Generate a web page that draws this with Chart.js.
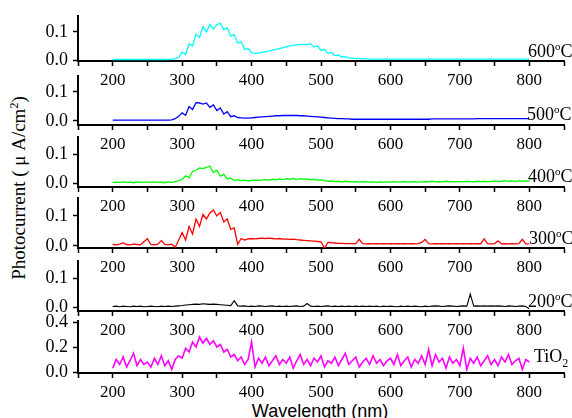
<!DOCTYPE html>
<html>
<head>
<meta charset="utf-8">
<script src="https://cdn.jsdelivr.net/npm/chart.js@4.4.1/dist/chart.umd.min.js"></script>
<style>
  html, body { margin: 0; padding: 0; background: #fff; }
  #wrap { position: relative; width: 572px; height: 418px; overflow: hidden; background: #fff; }
  #wrap canvas { position: absolute; left: 0; top: 0; }
  .ytitle {
    position: absolute; left: 18px; top: 188px; white-space: nowrap;
    transform: translate(-50%, -50%) rotate(-90deg);
    font: 19px "Liberation Serif"; line-height: 19px; color: #000;
  }
  .ytitle sup { font-size: 12px; vertical-align: 7px; line-height: 0; }
  .xtitle {
    position: absolute; left: 320px; top: 402px; white-space: nowrap;
    transform: translateX(-50%);
    font: 18px "Liberation Sans"; line-height: 18px; color: #000;
  }
</style>
</head>
<body>
<div id="wrap">
  <div class="ytitle">Photocurrent ( μ A/cm<sup>2</sup>)</div>
  <div class="xtitle">Wavelength (nm)</div>
</div>
<script>
// wavelength grid (nm)
const wavelengths = [
  200, 205, 210, 215, 220, 225, 230, 235, 240, 245,
  250, 255, 260, 265, 270, 275, 280, 285, 290, 295,
  300, 305, 310, 315, 320, 325, 330, 335, 340, 345,
  350, 355, 360, 365, 370, 375, 380, 385, 390, 395,
  400, 405, 410, 415, 420, 425, 430, 435, 440, 445,
  450, 455, 460, 465, 470, 475, 480, 485, 490, 495,
  500, 505, 510, 515, 520, 525, 530, 535, 540, 545,
  550, 555, 560, 565, 570, 575, 580, 585, 590, 595,
  600, 605, 610, 615, 620, 625, 630, 635, 640, 645,
  650, 655, 660, 665, 670, 675, 680, 685, 690, 695,
  700, 705, 710, 715, 720, 725, 730, 735, 740, 745,
  750, 755, 760, 765, 770, 775, 780, 785, 790, 795,
  800
];

// photocurrent (uA/cm2) per annealing temperature
const s600 = [
  0.002, 0.002, 0.002, 0.002, 0.002, 0.002, 0.002, 0.002, 0.002, 0.002,
  0.002, 0.002, 0.002, 0.002, 0.002, 0.002, 0.002, 0.003, 0.005, 0.010,
  0.028, 0.020, 0.058, 0.050, 0.092, 0.080, 0.118, 0.100, 0.127, 0.110,
  0.125, 0.131, 0.108, 0.115, 0.085, 0.090, 0.060, 0.065, 0.038, 0.040,
  0.026, 0.024, 0.025, 0.027, 0.030, 0.032, 0.035, 0.038, 0.041, 0.044,
  0.047, 0.050, 0.052, 0.054, 0.056, 0.056, 0.055, 0.058, 0.046, 0.050,
  0.034, 0.038, 0.024, 0.027, 0.016, 0.018, 0.011, 0.012, 0.008, 0.007,
  0.006, 0.005, 0.004, 0.004, 0.003, 0.003, 0.003, 0.003, 0.003, 0.003,
  0.003, 0.003, 0.003, 0.003, 0.003, 0.003, 0.003, 0.003, 0.003, 0.003,
  0.003, 0.003, 0.003, 0.003, 0.003, 0.003, 0.003, 0.003, 0.003, 0.003,
  0.003, 0.003, 0.003, 0.003, 0.003, 0.003, 0.003, 0.003, 0.003, 0.003,
  0.003, 0.003, 0.003, 0.003, 0.003, 0.003, 0.003, 0.003, 0.003, 0.003,
  0.003
];
const s500 = [
  0.003, 0.003, 0.003, 0.003, 0.003, 0.003, 0.003, 0.003, 0.003, 0.003,
  0.003, 0.003, 0.003, 0.003, 0.003, 0.003, 0.003, 0.004, 0.008, 0.016,
  0.028, 0.020, 0.050, 0.040, 0.063, 0.062, 0.058, 0.062, 0.047, 0.055,
  0.036, 0.045, 0.024, 0.032, 0.015, 0.018, 0.012, 0.011, 0.010, 0.010,
  0.011, 0.012, 0.013, 0.014, 0.015, 0.016, 0.017, 0.018, 0.018, 0.019,
  0.019, 0.019, 0.019, 0.019, 0.018, 0.018, 0.017, 0.016, 0.015, 0.014,
  0.013, 0.012, 0.011, 0.010, 0.009, 0.008, 0.008, 0.007, 0.007, 0.006,
  0.006, 0.006, 0.006, 0.006, 0.006, 0.006, 0.006, 0.006, 0.006, 0.006,
  0.006, 0.006, 0.006, 0.006, 0.006, 0.006, 0.006, 0.006, 0.006, 0.006,
  0.006, 0.006, 0.007, 0.007, 0.007, 0.007, 0.007, 0.007, 0.007, 0.007,
  0.007, 0.007, 0.007, 0.007, 0.007, 0.008, 0.008, 0.008, 0.008, 0.008,
  0.008, 0.008, 0.008, 0.008, 0.008, 0.008, 0.008, 0.008, 0.008, 0.008,
  0.008
];
const s400 = [
  0.001, 0.003, 0.002, 0.004, 0.002, 0.003, 0.001, 0.004, 0.002, 0.003,
  0.003, 0.002, 0.004, 0.002, 0.003, 0.001, 0.004, 0.002, 0.005, 0.008,
  0.012, 0.025, 0.018, 0.040, 0.044, 0.052, 0.050, 0.054, 0.058, 0.036,
  0.044, 0.024, 0.030, 0.014, 0.017, 0.009, 0.011, 0.008, 0.010, 0.007,
  0.009, 0.010, 0.008, 0.011, 0.012, 0.010, 0.013, 0.011, 0.014, 0.012,
  0.015, 0.013, 0.016, 0.012, 0.015, 0.013, 0.014, 0.011, 0.013, 0.010,
  0.011, 0.008, 0.006, 0.007, 0.005, 0.006, 0.004, 0.006, 0.005, 0.004,
  0.005, 0.003, 0.005, 0.004, 0.003, 0.004, 0.002, 0.004, 0.003, 0.004,
  0.003, 0.005, 0.003, 0.004, 0.005, 0.003, 0.004, 0.005, 0.003, 0.004,
  0.005, 0.004, 0.006, 0.004, 0.005, 0.004, 0.006, 0.005, 0.004, 0.005,
  0.005, 0.004, 0.006, 0.005, 0.004, 0.006, 0.005, 0.006, 0.004, 0.006,
  0.007, 0.005, 0.006, 0.008, 0.006, 0.007, 0.005, 0.008, 0.006, 0.007,
  0.007
];
const s300 = [
  0.005, 0.004, 0.006, 0.010, 0.005, 0.004, 0.006, 0.005, 0.004, 0.014,
  0.024, 0.005, 0.004, 0.006, 0.018, 0.005, 0.004, 0.006, -0.004, 0.020,
  0.045, 0.020, 0.065, 0.040, 0.090, 0.065, 0.105, 0.090, 0.110, 0.120,
  0.100, 0.112, 0.080, 0.090, 0.055, 0.060, 0.005, 0.025, 0.020, 0.024,
  0.025, 0.024, 0.025, 0.026, 0.025, 0.026, 0.025, 0.024, 0.025, 0.023,
  0.023, 0.022, 0.023, 0.021, 0.020, 0.019, 0.018, 0.017, 0.016, 0.015,
  0.014, -0.008, 0.012, 0.011, 0.010, 0.009, 0.009, 0.008, 0.008, 0.008,
  0.008, 0.022, 0.008, 0.007, 0.008, 0.007, 0.008, 0.007, 0.008, 0.007,
  0.008, 0.007, 0.008, 0.007, 0.008, 0.007, 0.008, 0.007, 0.008, 0.012,
  0.022, 0.008, 0.007, 0.008, 0.007, 0.008, 0.007, 0.008, 0.007, 0.008,
  0.007, 0.008, 0.007, 0.008, 0.007, 0.008, 0.007, 0.024, 0.008, 0.007,
  0.008, 0.017, 0.007, 0.008, 0.007, 0.008, 0.007, 0.008, 0.022, 0.007,
  0.007
];
const s200 = [
  0.002, 0.003, 0.001, 0.003, 0.002, 0.001, 0.003, 0.002, 0.003, 0.001,
  0.002, 0.003, 0.002, 0.001, 0.003, 0.002, 0.003, 0.002, 0.003, 0.004,
  0.005, 0.007, 0.008, 0.009, 0.010, 0.009, 0.011, 0.010, 0.009, 0.010,
  0.009, 0.008, 0.007, 0.006, 0.005, 0.022, 0.004, 0.003, 0.004, 0.002,
  0.003, 0.002, 0.004, 0.003, 0.002, 0.003, 0.004, 0.002, 0.003, 0.002,
  0.003, 0.002, 0.003, 0.004, 0.002, 0.003, 0.012, 0.003, 0.002, 0.003,
  0.002, 0.003, 0.004, 0.002, 0.003, 0.002, 0.003, 0.002, 0.003, 0.002,
  0.003, 0.002, 0.003, 0.002, 0.003, 0.002, 0.003, 0.001, 0.003, 0.002,
  0.003, 0.002, 0.001, 0.003, 0.002, 0.003, 0.002, 0.003, 0.002, 0.001,
  0.003, 0.002, 0.003, 0.004, 0.003, 0.002, 0.003, 0.004, 0.003, 0.002,
  0.003, 0.004, 0.003, 0.045, 0.003, 0.004, 0.003, 0.004, 0.003, 0.004,
  0.003, 0.004, 0.003, 0.002, 0.004, 0.003, 0.002, 0.003, 0.004, 0.002,
  -0.006
];
const sTiO2 = [
  0.03, 0.10, 0.06, 0.12, 0.04, 0.09, 0.15, 0.05, 0.10, 0.06,
  0.08, 0.04, 0.11, 0.06, 0.13, 0.05, 0.09, 0.02, 0.10, 0.13,
  0.11, 0.19, 0.16, 0.24, 0.20, 0.28, 0.23, 0.27, 0.22, 0.25,
  0.20, 0.22, 0.16, 0.18, 0.12, 0.14, 0.09, 0.12, 0.06, 0.10,
  0.24, 0.04, 0.11, 0.07, 0.12, 0.05, 0.09, 0.13, 0.06, 0.10,
  0.07, 0.12, 0.03, 0.09, 0.14, 0.06, 0.10, 0.05, 0.11, 0.08,
  0.13, 0.04, 0.09, 0.07, 0.12, 0.05, 0.10, 0.15, 0.06, 0.09,
  0.12, 0.04, 0.08, 0.11, 0.06, 0.13, 0.07, 0.10, 0.05, 0.09,
  0.11, 0.06, 0.14, 0.05, 0.09, 0.12, 0.04, 0.10, 0.07, 0.13,
  0.06, 0.18, 0.05, 0.14, 0.08, 0.11, 0.03, 0.12, 0.07, 0.10,
  0.05, 0.19, 0.02, 0.11, 0.07, 0.12, 0.05, 0.09, 0.13, 0.06,
  0.10, 0.05, 0.12, 0.08, 0.14, 0.06, 0.09, 0.11, 0.02, 0.10,
  0.08
];

// axis ticks
const xTicks = [150, 200, 250, 300, 350, 400, 450, 500, 550, 600, 650, 700, 750, 800, 850];
const xTickLabels = [200, 300, 400, 500, 600, 700, 800];
const yTicksSmall = [0, 0.05, 0.1, 0.15];
const yTickLabelsSmall = [0, 0.1];
const yTicksTiO2 = [0, 0.1, 0.2, 0.3, 0.4];
const yTickLabelsTiO2 = [0, 0.2, 0.4];

// panel names (number + superscript + tail, or subscript)
const panelNames = [
  { text: '600', sup: 'o', tail: 'C' },
  { text: '500', sup: 'o', tail: 'C' },
  { text: '400', sup: 'o', tail: 'C' },
  { text: '300', sup: 'o', tail: 'C' },
  { text: '200', sup: 'o', tail: 'C' },
  { text: 'TiO', sub: '2' }
];

// layout of the stacked panels (pixel positions of plot top / x axis)
const panels = [
  { data: s600, color: '#00FFFF', width: 1.3, top: 13, bottom: 61, yMin: -0.0033, yMax: 0.157, ticks: yTicksSmall, labels: yTickLabelsSmall, lift: 4, lx: 528 },
  { data: s500, color: '#0000FF', width: 1.3, top: 76, bottom: 125, yMin: -0.0138, yMax: 0.155, ticks: yTicksSmall, labels: yTickLabelsSmall, lift: 5, lx: 527 },
  { data: s400, color: '#00FF00', width: 1.3, top: 137, bottom: 187, yMin: -0.0138, yMax: 0.159, ticks: yTicksSmall, labels: yTickLabelsSmall, lift: 5, lx: 528 },
  { data: s300, color: '#FF0000', width: 1.3, top: 198, bottom: 248, yMin: -0.0067, yMax: 0.16, ticks: yTicksSmall, labels: yTickLabelsSmall, lift: 4, lx: 529 },
  { data: s200, color: '#000000', width: 1.1, top: 261, bottom: 311, yMin: -0.0138, yMax: 0.159, ticks: yTicksSmall, labels: yTickLabelsSmall, lift: 4, lx: 528 },
  { data: sTiO2, color: '#FF00FF', width: 1.6, top: 321, bottom: 373, yMin: -0.008, yMax: 0.408, ticks: yTicksTiO2, labels: yTickLabelsTiO2, lift: 11, lx: 534 }
];

const W = 572, H = 418, X_AXIS_H = 32;
const serif = '"Liberation Serif", "Times New Roman", serif';

// draws the panel name at the right end of each panel
const panelLabel = {
  id: 'panelLabel',
  afterDraw(chart, args, opts) {
    const ctx = chart.ctx;
    const y = chart.chartArea.bottom - opts.lift;
    let x = opts.x;
    ctx.save();
    ctx.fillStyle = '#000';
    ctx.textBaseline = 'alphabetic';
    ctx.textAlign = 'left';
    ctx.font = '18px ' + serif;
    ctx.fillText(opts.text, x, y);
    x += ctx.measureText(opts.text).width;
    if (opts.sup) {
      ctx.font = '11px ' + serif;
      ctx.fillText(opts.sup, x, y - 7);
      x += ctx.measureText(opts.sup).width;
    }
    if (opts.sub) {
      ctx.font = '12px ' + serif;
      ctx.fillText(opts.sub, x, y + 5);
      x += ctx.measureText(opts.sub).width;
    }
    if (opts.tail) {
      ctx.font = '18px ' + serif;
      ctx.fillText(opts.tail, x, y);
    }
    ctx.restore();
  }
};

const wrap = document.getElementById('wrap');

panels.forEach((p, i) => {
  const canvas = document.createElement('canvas');
  canvas.width = W;
  canvas.height = H;
  wrap.appendChild(canvas);

  new Chart(canvas, {
    type: 'line',
    data: {
      datasets: [{
        data: wavelengths.map((w, k) => ({ x: w, y: p.data[k] })),
        borderColor: p.color,
        borderWidth: p.width,
        pointRadius: 0,
        tension: 0,
        fill: false
      }]
    },
    plugins: [panelLabel],
    options: {
      responsive: false,
      animation: false,
      devicePixelRatio: 1,
      events: [],
      layout: { padding: { top: p.top, bottom: H - p.bottom - X_AXIS_H, left: 0, right: 8 } },
      plugins: {
        legend: { display: false },
        tooltip: { enabled: false },
        panelLabel: Object.assign({ x: p.lx, lift: p.lift }, panelNames[i])
      },
      scales: {
        x: {
          type: 'linear',
          min: 150,
          max: 850,
          afterBuildTicks: (s) => { s.ticks = xTicks.map(v => ({ value: v })); },
          afterFit: (s) => { s.height = X_AXIS_H; },
          border: { display: true, color: '#000', width: 2 },
          grid: { drawOnChartArea: false, drawTicks: true, tickLength: 5, color: '#000', tickWidth: 1.5 },
          ticks: {
            autoSkip: false,
            maxRotation: 0,
            padding: 4,
            color: '#000',
            font: { family: serif, size: 17 },
            callback: (v) => xTickLabels.includes(v) ? String(v) : ''
          }
        },
        y: {
          type: 'linear',
          min: p.yMin,
          max: p.yMax,
          afterBuildTicks: (s) => { s.ticks = p.ticks.map(v => ({ value: v })); },
          afterFit: (s) => { s.width = 78; },
          border: { display: true, color: '#000', width: 2 },
          grid: { drawOnChartArea: false, drawTicks: true, tickLength: 5, color: '#000', tickWidth: 1.5 },
          ticks: {
            padding: 5,
            color: '#000',
            font: { family: serif, size: 18 },
            callback: (v) => p.labels.includes(v) ? v.toFixed(1) : ''
          }
        }
      }
    }
  });
});
</script>
</body>
</html>
